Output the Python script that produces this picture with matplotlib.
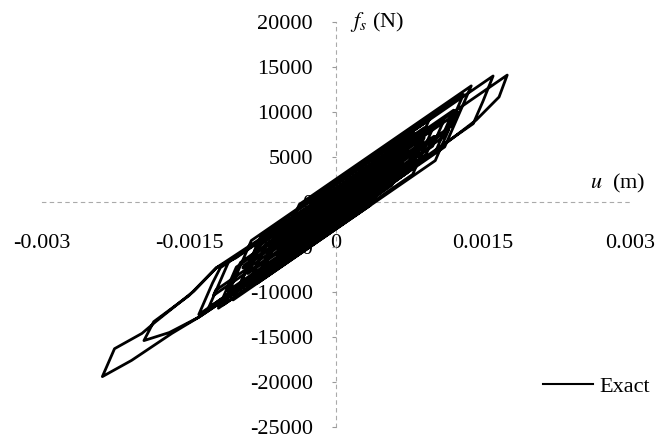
import numpy as np
import matplotlib
matplotlib.use('Agg')
import matplotlib.pyplot as plt

plt.rcParams['font.family'] = 'Liberation Serif'
plt.rcParams['mathtext.fontset'] = 'stix'

# hysteresis path: displacement (mm) and restoring force (N)
u_mm = [0.00, 0.046, 0.30, 0.151, -0.40, -0.229, 0.60, 0.394, -0.80, -0.606,
        1.00, 0.783, -1.20, -1.017, 0.90, 0.797, -0.60, -0.374, 1.38, 1.109,
        -1.00, -0.817, 1.747, 1.664, 1.43, 1.07, 0.35, -0.50, -0.237, 1.603,
        1.50, 1.40, -1.30, -1.094, 0.80, 0.571, -1.09, -1.40, -1.70, -1.96,
        -1.86, -1.50, -1.22, 0.20, -0.029, -0.90, -0.717, 0.50, 0.329, -1.09,
        -1.40, -1.675, -2.086, -2.384, -2.26, -1.98, -1.84, -1.45, -1.22, -1.02,
        0.90, 0.70, -1.40, -1.26, -1.18, 0.60, 0.349, -0.80, -0.583, 1.10,
        0.986, -0.90, -0.763, 1.20, 1.017, -0.60, -0.474, 0.70, 0.643, -0.50,
        -0.466, 1.00, 0.92, -1.10, -0.974, 1.25, 1.193, -0.70, -0.666, 0.40,
        0.331, -0.30, -0.243, 0.20, 0.04, -1.15, -0.864, 1.30, 1.117, -1.25,
        -1.227, 1.15, 1.013, -1.05, -0.764, 0.95, 0.824, -0.95, -0.939, 0.85,
        0.724, -0.35, -0.173, 0.10, 0.02]
fs_N = [0, 1150, 3050, -670, -4800, -520, 5700, 560, -8400, -3550,
        8500, 3070, -11800, -7230, 7150, 4580, -5900, -260, 12900, 6120,
        -9700, -5130, 14100, 11670, 9100, 6100, 200, -6350, 220, 14000,
        11200, 8700, -11750, -6600, 7600, 1880, -10560, -12800, -14500, -15400,
        -13300, -10400, -7300, 2900, -2820, -9350, -4780, 4350, 70, -10500,
        -12800, -14600, -17600, -19400, -16300, -14600, -13300, -9900, -7300, -6200,
        8250, 3250, -12500, -9000, -7300, 5900, -380, -9000, -3570, 9050,
        6200, -7950, -4520, 10200, 5630, -6500, -3360, 5450, 4020, -4550,
        -3700, 7300, 5300, -9850, -6710, 9980, 8550, -5650, -4800, 3200,
        1480, -3250, -1820, 1500, -2500, -11430, -4280, 11950, 7380, -10380,
        -9800, 8030, 4600, -10880, -3730, 9130, 5980, -7330, -7040, 6380,
        3230, -4830, -400, 1650, -350]

x_ticks = [-0.003, -0.0015, 0, 0.0015, 0.003]
x_labels = ['-0.003', '-0.0015', '0', '0.0015', '0.003']
y_ticks = [-25000, -20000, -15000, -10000, -5000, 0, 5000, 10000, 15000, 20000]

fig = plt.figure(figsize=(6.59, 4.42), dpi=100)
ax = fig.add_axes([42 / 659, 15 / 442, 588 / 659, 405 / 442])

ax.plot(np.array(u_mm) / 1000, fs_N, color='black', lw=2.0, label='Exact')

ax.set_xlim(-0.003, 0.003)
ax.set_ylim(-25000, 20000)

# axes through the origin, faint dotted like the scan
for side in ['top', 'right']:
    ax.spines[side].set_visible(False)
for side in ['left', 'bottom']:
    ax.spines[side].set_position(('data', 0))
    ax.spines[side].set_color('#aaaaaa')
    ax.spines[side].set_linestyle((0, (3, 4)))
    ax.spines[side].set_linewidth(0.8)
    ax.spines[side].set_zorder(0.5)

ax.set_xticks(x_ticks)
ax.set_xticklabels(x_labels)
ax.set_yticks(y_ticks)
ax.set_yticklabels([str(v) for v in y_ticks])
ax.tick_params(axis='x', length=0, pad=23, labelsize=16)
ax.tick_params(axis='y', direction='out', length=3, width=0.8, color='#999999',
               pad=13.5, labelsize=16)
ax.set_axisbelow(True)
ax.patch.set_visible(False)

ax.text(0.00014, 20000, r'$f_s$ (N)', fontsize=16, va='center', ha='left')
ax.text(0.00259, 2100, r'$u$  (m)', fontsize=16, va='center', ha='left')

leg = ax.legend(loc='center left', bbox_to_anchor=(0.852, 0.099), frameon=False,
                fontsize=16, handlelength=2.25, handletextpad=0.3, borderpad=0,
                borderaxespad=0)
leg.get_lines()[0].set_linewidth(1.5)

fig.savefig('out.png', dpi=100)
